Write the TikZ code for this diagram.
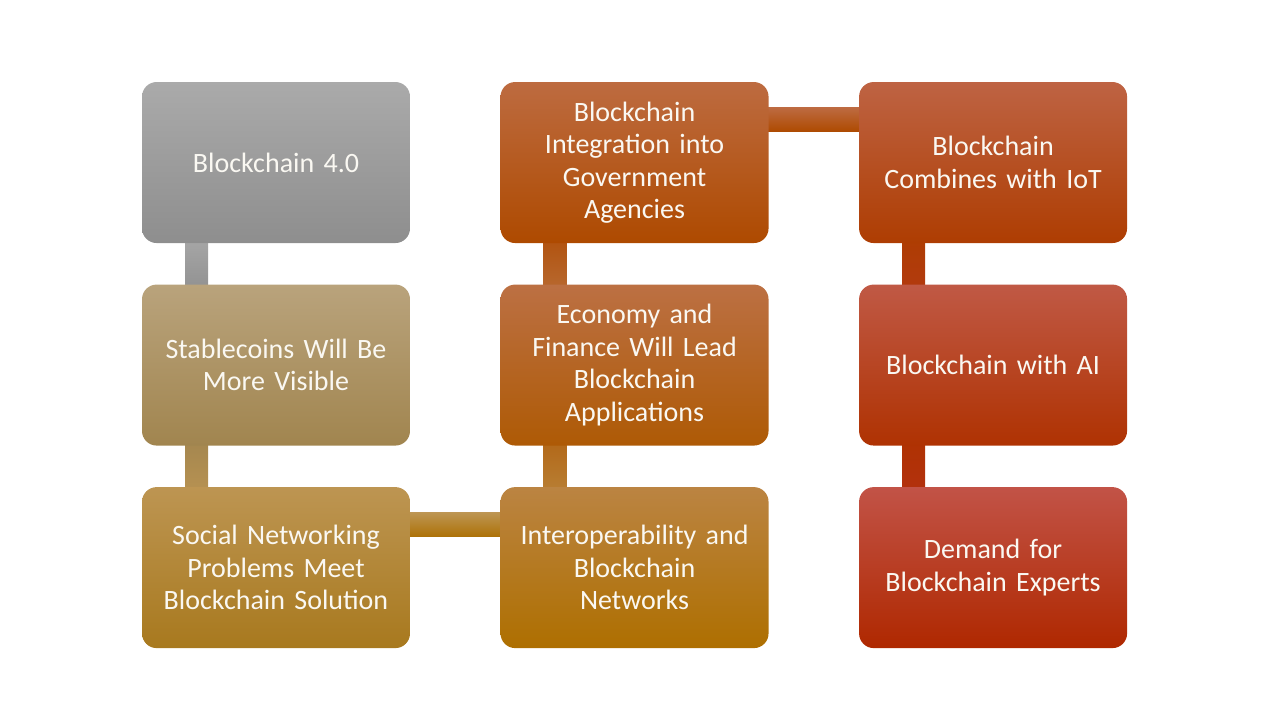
\documentclass[tikz,border=0pt]{standalone}
\usepackage{fontspec}
\setmainfont{Carlito}
\usetikzlibrary{positioning,backgrounds}
\definecolor{grayT}{HTML}{AAAAAA}
\definecolor{grayB}{HTML}{8E8E8E}
\definecolor{sandT}{HTML}{B9A37C}
\definecolor{sandB}{HTML}{A1854F}
\definecolor{goldT}{HTML}{BD9552}
\definecolor{goldB}{HTML}{A8791E}
\definecolor{amberT}{HTML}{BB8442}
\definecolor{amberB}{HTML}{AE6F00}
\definecolor{ochreT}{HTML}{BC7043}
\definecolor{ochreB}{HTML}{AE5A05}
\definecolor{rustT}{HTML}{BD6B40}
\definecolor{rustB}{HTML}{AE4A00}
\definecolor{brickT}{HTML}{BE6343}
\definecolor{brickB}{HTML}{AE3D02}
\definecolor{redT}{HTML}{C05945}
\definecolor{redB}{HTML}{AF3202}
\definecolor{deepT}{HTML}{C25347}
\definecolor{deepB}{HTML}{AF2800}
\definecolor{cardtext}{HTML}{FAF8F2}
\tikzset{
  card/.style={
    rectangle,
    rounded corners=11pt,
    minimum width=201pt,
    minimum height=120.75pt,
    text width=195pt,
    inner sep=0pt,
    align=center,
    text=cardtext,
    font=\fontsize{21}{24.4}\selectfont
  },
  bar/.style={
    draw=none
  }
}

\begin{document}
\begin{tikzpicture}[node distance=30.75pt and 67.5pt]
  \useasboundingbox (0,0) rectangle (960pt,-540pt);
  \node[card, top color=grayT, bottom color=grayB] (bc4) at (207pt,-121.9pt) {Blockchain 4.0};
  \node[card, top color=sandT, bottom color=sandB, below=of bc4] (stable) {Stablecoins Will Be\\More Visible};
  \node[card, top color=goldT, bottom color=goldB, below=of stable] (social) {Social Networking\\Problems Meet\\Blockchain Solution};
  \node[card, top color=amberT, bottom color=amberB, right=of social] (interop) {Interoperability and\\Blockchain\\Networks};
  \node[card, top color=ochreT, bottom color=ochreB, above=of interop] (economy) {Economy and\\Finance Will Lead\\Blockchain\\Applications};
  \node[card, top color=rustT, bottom color=rustB, above=of economy] (gov) {Blockchain\\Integration into\\Government\\Agencies};
  \node[card, top color=brickT, bottom color=brickB, right=of gov] (iot) {Blockchain\\Combines with IoT};
  \node[card, top color=redT, bottom color=redB, below=of iot] (ai) {Blockchain with AI};
  \node[card, top color=deepT, bottom color=deepB, below=of ai] (experts) {Demand for\\Blockchain Experts};

  % connecting bars behind the cards
  \begin{scope}[on background layer]
    \fill[bar, top color=grayT!90!grayB, bottom color=grayB!90!grayT] ([xshift=-68.25pt,yshift=5pt]bc4.south) rectangle ([xshift=-51pt,yshift=-5pt]stable.north);
    \fill[bar, top color=sandB!90!goldT, bottom color=goldT!80!sandB] ([xshift=-68.25pt,yshift=5pt]stable.south) rectangle ([xshift=-51pt,yshift=-5pt]social.north);
    \fill[bar, top color=goldT, bottom color=amberB!80!goldB] ([yshift=-19.5pt,xshift=-5pt]social.north east) rectangle ([yshift=-37.5pt,xshift=5pt]interop.north west);
    \fill[bar, top color=ochreB!70!amberT, bottom color=amberT!80!amberB] ([xshift=-68.25pt,yshift=-5pt]interop.north) rectangle ([xshift=-51pt,yshift=5pt]economy.south);
    \fill[bar, top color=rustB!80!ochreT, bottom color=ochreT!70!ochreB] ([xshift=-68.25pt,yshift=-5pt]economy.north) rectangle ([xshift=-51pt,yshift=5pt]gov.south);
    \fill[bar, top color=rustT!90!brickT, bottom color=rustB] ([yshift=-19.5pt,xshift=-5pt]gov.north east) rectangle ([yshift=-37.5pt,xshift=5pt]iot.north west);
    \fill[bar, top color=brickB, bottom color=redB!80!redT] ([xshift=-68.25pt,yshift=5pt]iot.south) rectangle ([xshift=-51pt,yshift=-5pt]ai.north);
    \fill[bar, top color=redB, bottom color=deepB!80!deepT] ([xshift=-68.25pt,yshift=5pt]ai.south) rectangle ([xshift=-51pt,yshift=-5pt]experts.north);
  \end{scope}
\end{tikzpicture}
\end{document}
